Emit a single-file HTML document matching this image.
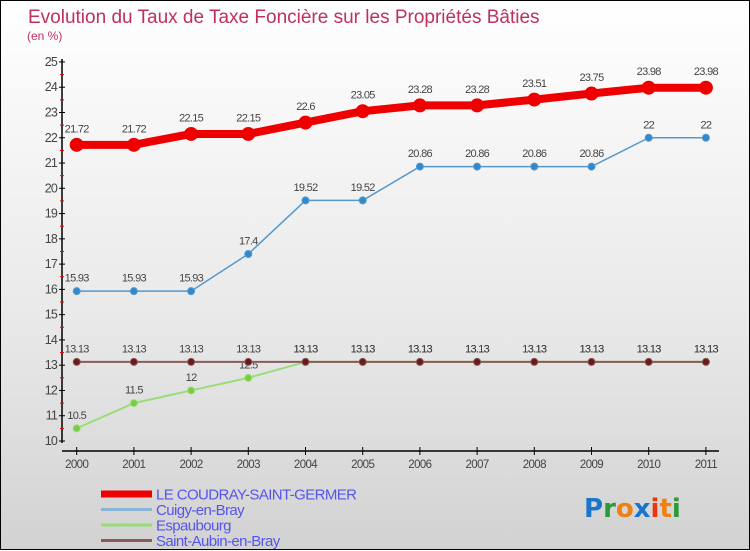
<!DOCTYPE html>
<html><head><meta charset="utf-8">
<style>
html,body{margin:0;padding:0;}
body{width:750px;height:550px;overflow:hidden;font-family:"Liberation Sans",sans-serif;}
#wrap{position:relative;width:748px;height:548px;border:1px solid #000;background:linear-gradient(#ffffff 0%,#e8e8e8 60%,#d2d2d2 100%);}
svg{position:absolute;left:0;top:0;}
</style></head>
<body>
<div id="wrap">
<svg id="chart" width="750" height="550"></svg>
</div>
<script>
const years = [2000,2001,2002,2003,2004,2005,2006,2007,2008,2009,2010,2011];
const coudray = [21.72,21.72,22.15,22.15,22.6,23.05,23.28,23.28,23.51,23.75,23.98,23.98];
const cuigy = [15.93,15.93,15.93,17.4,19.52,19.52,20.86,20.86,20.86,20.86,22,22];
const espaubourg = [10.5,11.5,12,12.5,13.13,13.13,13.13,13.13,13.13,13.13,13.13,13.13];
const saintAubin = [13.13,13.13,13.13,13.13,13.13,13.13,13.13,13.13,13.13,13.13,13.13,13.13];
const yTicks = [10,11,12,13,14,15,16,17,18,19,20,21,22,23,24,25];
const seriesNames = ["LE COUDRAY-SAINT-GERMER","Cuigy-en-Bray","Espaubourg","Saint-Aubin-en-Bray"];

const NS="http://www.w3.org/2000/svg";
const svg=document.getElementById('chart');
const X0=75.7, XSTEP=57.2, Y10=440, YUNIT=25.27;
function xs(i){return X0+i*XSTEP;}
function ys(v){return Y10-(v-10)*YUNIT;}
function mk(tag,attrs,parent){const e=document.createElementNS(NS,tag);for(const k in attrs)e.setAttribute(k,attrs[k]);(parent||svg).appendChild(e);return e;}
function txt(x,y,s,attrs,parent){const t=mk('text',Object.assign({x:x,y:y},attrs),parent);t.textContent=s;return t;}

let t=txt(27,22,"Evolution du Taux de Taxe Foncière sur les Propriétés Bâties",{'font-size':19,fill:'#c0305a'});


t=txt(26,39,"(en %)",{'font-size':12,fill:'#c0305a'});



let ax=mk('line',{x1:61,y1:58,x2:61,y2:442,stroke:'#000','stroke-width':1.5});


ax=mk('line',{x1:61,y1:450,x2:718,y2:450,stroke:'#000','stroke-width':1.5});


yTicks.forEach(v=>{
  const y=ys(v);
  const l=mk('line',{x1:58,y1:y,x2:64,y2:y,stroke:'#000','stroke-width':1});
  
  
  const lb=txt(56,y+4,String(v),{'font-size':12.5,fill:'#444','text-anchor':'end','letter-spacing':'-0.8'});
  
  
  if(v<25){const m=mk('line',{x1:59,y1:y-YUNIT/2,x2:63,y2:y-YUNIT/2,stroke:'#e00','stroke-width':1});
  
  }
});
years.forEach((yr,i)=>{
  const x=xs(i);
  const l=mk('line',{x1:x,y1:446,x2:x,y2:454,stroke:'#000','stroke-width':1});
  
  
  const lb=txt(x,467,String(yr),{'font-size':11.5,fill:'#444','text-anchor':'middle','letter-spacing':'-0.6'});
  
  
});

function series(data,name,color,width,ptColor,r){
  const g=mk('g',{});
  
  
  const pts=data.map((v,i)=>xs(i)+','+ys(v)).join(' ');
  const pl=mk('polyline',{points:pts,fill:'none',stroke:color,'stroke-width':width,'stroke-linejoin':'round'},g);
  
  
  data.forEach((v,i)=>{
    const c=mk('circle',{cx:xs(i),cy:ys(v),r:r,fill:ptColor,stroke:color,'stroke-width':1},g);
    
    
    const lb=txt(xs(i),ys(v)-(r+6),String(v),{'font-size':11,fill:'#444','text-anchor':'middle','letter-spacing':'-0.7'},g);
    
    
  });
}
series(espaubourg,'espaubourg','#99dd77',2,'#77cc44',3.5);
series(saintAubin,'saint-aubin','#8a5a5a',2,'#6a1a1a',3.5);
series(cuigy,'cuigy','#5599cc',1.5,'#3388cc',3.5);
series(coudray,'coudray','#ee0000',8,'#ee0000',6.5);

const legend=mk('g',{});


const lc=['#ee0000','#88b4d8','#99dd77','#8a5a5a'];
const lw=[7,3,3,3];
seriesNames.forEach((n,i)=>{
  const y=493+i*15.5;
  const ln=mk('line',{x1:100,y1:y,x2:151,y2:y,stroke:lc[i],'stroke-width':lw[i]},legend);
  
  
  const lb=txt(155,y+5.5,n,{'font-size':15,fill:'#5555ee','letter-spacing':'-0.6'},legend);
  
  
});

const logo=mk('text',{x:583,y:516,'font-size':26,'font-family':'"DejaVu Sans",sans-serif','font-weight':'bold'});


[['P','#1a75cc'],['r','#2a9a3a'],['o','#f08010'],['x','#1a75cc'],['i','#ee3311'],['t','#f08010'],['i','#2a9a3a']].forEach(([c,col])=>{
  const s=mk('tspan',{fill:col},logo);s.textContent=c;
});
</script>
</body></html>
